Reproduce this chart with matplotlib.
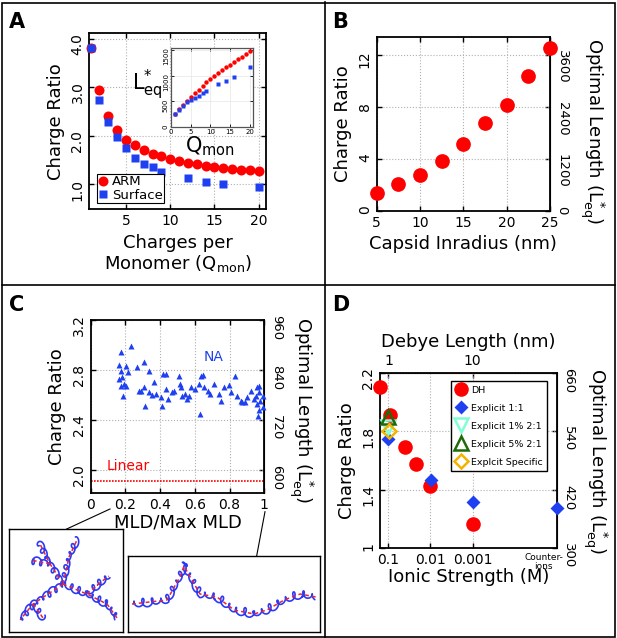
import numpy as np
import matplotlib
matplotlib.use('Agg')
import matplotlib.pyplot as plt
from matplotlib.lines import Line2D

plt.rcParams['font.family'] = ['DejaVu Sans']
plt.rcParams['mathtext.fontset'] = 'dejavusans'

RED = '#ff0000'
BLUE = '#1f40f0'

# ---------------- data ----------------
# Panel A
arm_q = list(range(1, 21))
arm_cr = [3.80, 2.94, 2.40, 2.11, 1.91, 1.80, 1.71, 1.63, 1.57, 1.52,
          1.47, 1.43, 1.41, 1.38, 1.36, 1.34, 1.32, 1.30, 1.29, 1.26]
surf_q = [1, 2, 3, 4, 5, 6, 7, 8, 9, 12, 14, 16, 20]
surf_cr = [3.80, 2.74, 2.29, 1.97, 1.74, 1.54, 1.42, 1.36, 1.25, 1.13, 1.05, 1.00, 0.93]
arm_leq = [244, 360, 437, 513, 583, 660, 731, 802, 872, 936,
           1000, 1058, 1115, 1167, 1218, 1269, 1321, 1372, 1429, 1481]
surf_leq = [244, 340, 417, 487, 532, 571, 609, 660, 699, 840, 904, 981, 1160]

# Panel B
capsid_r = [5.0, 7.5, 10.0, 12.5, 15.0, 17.5, 20.0, 22.5, 25.0]
capsid_cr = [1.38, 2.03, 2.77, 3.87, 5.15, 6.77, 8.18, 10.38, 12.56]

# Panel C
mld = [0.177, 0.23, 0.163, 0.206, 0.173, 0.215, 0.163, 0.18, 0.19, 0.177, 0.206, 0.188,
       0.269, 0.307, 0.336, 0.365, 0.288, 0.307, 0.279, 0.311, 0.336, 0.355, 0.378, 0.403,
       0.419, 0.432, 0.413, 0.432, 0.446, 0.471, 0.48, 0.509, 0.515, 0.523, 0.528, 0.542,
       0.557, 0.567, 0.576, 0.60, 0.628, 0.634, 0.647, 0.624, 0.653, 0.676, 0.688, 0.711,
       0.74, 0.749, 0.765, 0.797, 0.807, 0.83, 0.845, 0.865, 0.874, 0.888, 0.90, 0.922,
       0.938, 0.951, 0.96, 0.97, 0.97, 0.96, 0.976, 0.97, 0.966, 0.99, 0.99]
na_cr = [2.947, 2.99, 2.84, 2.83, 2.79, 2.78, 2.73, 2.74, 2.69, 2.67, 2.67, 2.59,
         2.82, 2.86, 2.79, 2.70, 2.63, 2.66, 2.63, 2.51, 2.62, 2.60, 2.61, 2.58,
         2.77, 2.77, 2.51, 2.65, 2.57, 2.62, 2.63, 2.75, 2.69, 2.66, 2.59, 2.61,
         2.57, 2.59, 2.66, 2.65, 2.45, 2.75, 2.76, 2.69, 2.66, 2.63, 2.61, 2.69,
         2.61, 2.55, 2.66, 2.68, 2.62, 2.75, 2.59, 2.55, 2.54, 2.54, 2.58, 2.63,
         2.57, 2.59, 2.66, 2.67, 2.62, 2.53, 2.55, 2.48, 2.43, 2.50, 2.59]
linear_cr = 1.91

# Panel D (ionic strength in M; counter-ions only case plotted at far right)
dh_I = [0.155, 0.091, 0.040, 0.022, 0.010, 0.00095]
dh_cr = [2.10, 1.91, 1.694, 1.576, 1.422, 1.163]
ex11_I = [0.1, 0.0095, 0.001]
ex11_cr = [1.746, 1.463, 1.313]
ex11_counter_cr = 1.277
ex1pct_I = [0.1]
ex1pct_cr = [1.83]
ex5pct_I = [0.1]
ex5pct_cr = [1.90]
exspec_I = [0.095]
exspec_cr = [1.80]
ionic_ticks = [0.1, 0.01, 0.001]
ionic_labels = ['0.1', '0.01', '0.001']
debye_ticks_I = [0.1, 0.001]
debye_labels = ['1', '10']

LEQ_PER_CR = 300.0

# ---------------- figure ----------------
W, H = 617, 638
fig = plt.figure(figsize=(W / 100, H / 100), dpi=100)


def ax_px(l, t, r, b):
    return fig.add_axes([l / W, 1 - b / H, (r - l) / W, (b - t) / H])


def style(ax, right=True, top=True, size=10):
    ax.tick_params(direction='in', top=top, right=right, labelsize=size,
                   length=3.5, width=1)
    ax.tick_params(axis='y', labelrotation=90)
    ax.grid(True, ls=':', color='#b0b0b0', lw=0.8)
    for s in ax.spines.values():
        s.set_linewidth(1.3)


def add_right(ax, ticks, label_x, label_y):
    sec = ax.secondary_yaxis('right', functions=(lambda y: y * LEQ_PER_CR,
                                                  lambda y: y / LEQ_PER_CR))
    sec.set_yticks(ticks)
    sec.tick_params(direction='in', labelsize=9.5, length=3.5, width=1,
                    labelrotation=-90, pad=4)
    fig.text(label_x / W, 1 - label_y / H, 'Optimal Length (L$^{*}_{\\mathrm{eq}}$)',
             rotation=270, fontsize=13, ha='center', va='center')
    return sec


# ---------- Panel A ----------
axA = ax_px(89.3, 33.3, 265.7, 209.3)
style(axA)
axA.plot(arm_q, arm_cr, 'o', color=RED, ms=7.2, mec='none', clip_on=False, zorder=3, label='ARM')
axA.plot(surf_q, surf_cr, 's', color=BLUE, ms=6.3, mec='none', clip_on=False, zorder=3, label='Surface')
axA.set_xlim(0.85, 20.8)
axA.set_ylim(0.48, 4.11)
axA.set_xticks([5, 10, 15, 20])
axA.set_yticks([1, 2, 3, 4])
axA.set_yticklabels(['1.0', '2.0', '3.0', '4.0'])
axA.set_ylabel('Charge Ratio', fontsize=13)
axA.set_xlabel('Charges per\nMonomer (Q$_{\\mathrm{mon}}$)', fontsize=13, linespacing=1.1)
leg = axA.legend(loc='lower left', bbox_to_anchor=(0.042, 0.034), borderaxespad=0,
                 fontsize=9.5, handlelength=0.8, handletextpad=0.25, borderpad=0.1,
                 labelspacing=0.05, fancybox=False, edgecolor='black', framealpha=1)
leg.get_frame().set_linewidth(0.8)

# inset
axI = ax_px(171, 48, 253, 127)
axI.plot(arm_q, arm_leq, 'o', color=RED, ms=3.2, mec='none', clip_on=False, zorder=3)
axI.plot(surf_q, surf_leq, 's', color=BLUE, ms=3.2, mec='none', clip_on=False, zorder=3)
axI.set_xlim(0, 20.8)
axI.set_ylim(0, 1540)
axI.set_xticks([0, 5, 10, 15, 20])
axI.set_yticks([0, 500, 1000, 1500])
axI.tick_params(direction='in', top=True, right=True, labelsize=5, length=2, width=0.6, pad=1.5)
axI.tick_params(axis='y', labelrotation=90)
axI.grid(True, ls='-', color='#e6e6e6', lw=0.5)
for s in axI.spines.values():
    s.set_linewidth(0.9)
    s.set_color('#555555')
fig.text(147 / W, 1 - 85 / H, 'L$^{*}_{\\mathrm{eq}}$', fontsize=15, ha='center', va='center')
fig.text(210 / W, 1 - 146 / H, 'Q$_{\\mathrm{mon}}$', fontsize=15, ha='center', va='center')

# ---------- Panel B ----------
axB = ax_px(376.7, 37.3, 550, 210.7)
style(axB, right=False)
axB.plot(capsid_r, capsid_cr, 'o', color=RED, ms=10.6, mec='none', clip_on=False, zorder=3)
axB.set_xlim(5, 25)
axB.set_ylim(0, 13.4)
axB.set_xticks([5, 10, 15, 20, 25])
axB.set_yticks([0, 4, 8, 12])
axB.set_ylabel('Charge Ratio', fontsize=13)
axB.set_xlabel('Capsid Inradius (nm)', fontsize=13)
add_right(axB, [0, 1200, 2400, 3600], 592, 131)

# ---------- Panel C ----------
axC = ax_px(90.7, 320, 264.3, 493.3)
style(axC, right=False)
axC.plot(mld, na_cr, '^', color=BLUE, ms=4.6, mec='none', clip_on=False, zorder=3)
axC.axhline(linear_cr, color=RED, ls=(0, (1, 0.8)), lw=1.2)
axC.set_xlim(0, 1)
axC.set_ylim(1.81, 3.2)
axC.set_xticks([0, 0.2, 0.4, 0.6, 0.8, 1.0])
axC.set_xticklabels(['0', '0.2', '0.4', '0.6', '0.8', '1'])
axC.set_yticks([2.0, 2.4, 2.8, 3.2])
axC.set_yticklabels(['2.0', '2.4', '2.8', '3.2'])
axC.set_ylabel('Charge Ratio', fontsize=13)
axC.set_xlabel('MLD/Max MLD', fontsize=13, labelpad=1)
axC.text(0.709, 2.90, 'NA', color=BLUE, fontsize=10, ha='center', va='center')
axC.text(0.215, 2.03, 'Linear', color=RED, fontsize=10, ha='center', va='center')
add_right(axC, [600, 720, 840, 960], 301, 410)


# illustrative conformations (schematic drawings)
def coil(ax, pts, amp, period, lw=1.3):
    pts = np.asarray(pts, float)
    seg = np.diff(pts, axis=0)
    seglen = np.hypot(seg[:, 0], seg[:, 1])
    s_cum = np.concatenate([[0], np.cumsum(seglen)])
    s = np.arange(0, s_cum[-1], 0.25)
    x = np.interp(s, s_cum, pts[:, 0])
    y = np.interp(s, s_cum, pts[:, 1])
    idx = np.clip(np.searchsorted(s_cum, s, side='right') - 1, 0, len(seg) - 1)
    tx = seg[idx, 0] / seglen[idx]
    ty = seg[idx, 1] / seglen[idx]
    nx, ny = -ty, tx
    phi = 2 * np.pi * s / period
    a = amp * (0.55 + 0.45 * np.sin(s / 9.0) ** 2)
    cx = x + a * (np.cos(phi) * tx + np.sin(phi) * nx) * 0.9
    cy = y + a * (np.cos(phi) * ty + np.sin(phi) * ny) * 1.3
    ax.plot(cx, cy, color='#2b3bf5', lw=lw, solid_capstyle='round')
    ax.plot(x, y, color='#e8243c', lw=1.1, ls=(0, (2.5, 2.0)))


axL1 = ax_px(9, 529, 123, 632)
axL1.set_xlim(0, 114)
axL1.set_ylim(0, 103)
c0 = (54, 48)
for br in [[c0, (24, 28), (11, 12)],
           [c0, (41, 68), (30, 90)],
           [c0, (60, 75), (68, 92)],
           [c0, (78, 38), (98, 28), (108, 14)],
           [(78, 38), (92, 50), (100, 56)],
           [(41, 68), (22, 72)],
           [(24, 28), (34, 14)]]:
    coil(axL1, br, 3.2, 7.5, lw=1.2)
axL2 = ax_px(128, 556, 320, 632)
axL2.set_xlim(0, 192)
axL2.set_ylim(0, 76)
coil(axL2, [(4, 28), (39, 32), (52, 55), (56, 66), (72, 38), (89, 35), (106, 22),
            (126, 18), (139, 22), (156, 32), (172, 38), (188, 35)], 3.5, 9, lw=1.2)
for a in (axL1, axL2):
    a.set_xticks([])
    a.set_yticks([])
    for s in a.spines.values():
        s.set_linewidth(1.0)
fig.add_artist(Line2D([110 / W, 66.7 / W], [1 - 509 / H, 1 - 529 / H], color='k', lw=0.8))
fig.add_artist(Line2D([265 / W, 256.7 / W], [1 - 511.7 / H, 1 - 555.7 / H], color='k', lw=0.8))

# ---------- Panel D ----------
def ipos(I):
    return -np.log10(np.asarray(I, float))


axD = ax_px(380, 372.7, 556.7, 548)
style(axD, right=False, top=False)
axD.plot(ipos(dh_I), dh_cr, 'o', color=RED, ms=10.5, mec='none', clip_on=False, zorder=3, label='DH')
axD.plot(list(ipos(ex11_I)) + [5.0], ex11_cr + [ex11_counter_cr], 'D', color=BLUE, ms=7.3,
         mec='none', clip_on=False, zorder=3, label='Explicit 1:1')
axD.plot(ipos(ex1pct_I), ex1pct_cr, 'v', mfc='none', mec='#7fffd4', mew=1.8, ms=10,
         clip_on=False, zorder=3, label='Explicit 1% 2:1')
axD.plot(ipos(ex5pct_I), ex5pct_cr, '^', mfc='none', mec='#1e6b0c', mew=1.8, ms=10,
         clip_on=False, zorder=3, label='Explicit 5% 2:1')
axD.plot(ipos(exspec_I), exspec_cr, 'D', mfc='none', mec='#f2b400', mew=1.8, ms=7.5,
         clip_on=False, zorder=3, label='Explcit Specific')
axD.set_xlim(0.8, 5.0)
axD.set_ylim(1.0, 2.2)
axD.set_xticks(ipos(ionic_ticks))
axD.set_xticklabels(ionic_labels)
axD.set_yticks([1.0, 1.4, 1.8, 2.2])
axD.set_yticklabels(['1', '1.4', '1.8', '2.2'])
axD.set_ylabel('Charge Ratio', fontsize=13)
axD.set_xlabel('Ionic Strength (M)', fontsize=13, labelpad=1)
axD.text(4.69, 0.965, 'Counter-\nions', fontsize=6.5, ha='center', va='top', linespacing=1.0,
         transform=axD.transData)
topD = axD.secondary_xaxis('top', functions=(lambda x: x, lambda x: x))
topD.set_xticks(ipos(debye_ticks_I))
topD.set_xticklabels(debye_labels)
topD.tick_params(direction='in', labelsize=10, length=3.5, width=1)
topD.set_xlabel('Debye Length (nm)', fontsize=13, labelpad=5)
add_right(axD, [300, 420, 540, 660], 595, 461)
legD = axD.legend(loc='upper right', bbox_to_anchor=(0.947, 0.953), borderaxespad=0,
                  fontsize=6.8, handlelength=1.2, handletextpad=0.4, borderpad=0.5,
                  labelspacing=0.95, fancybox=False, edgecolor='black', framealpha=1)
legD.get_frame().set_linewidth(1.0)

# ---------- panel letters and frame ----------
for lab, (x, y) in {'A': (9, 28), 'B': (332, 28), 'C': (9, 311), 'D': (332, 311)}.items():
    fig.text(x / W, 1 - y / H, lab, fontsize=15, fontweight='bold', ha='left', va='baseline')
fig.add_artist(plt.Rectangle((1.5 / W, 1.5 / H), 613 / W, 634 / H, transform=fig.transFigure,
                             fill=False, ec='k', lw=1.2))
fig.add_artist(Line2D([1.5 / W, 615 / W], [1 - 285 / H, 1 - 285 / H], color='k', lw=1.2))
fig.add_artist(Line2D([325 / W, 325 / W], [1.5 / H, 1 - 1.5 / H], color='k', lw=1.2))

fig.savefig('out.png', dpi=100)
